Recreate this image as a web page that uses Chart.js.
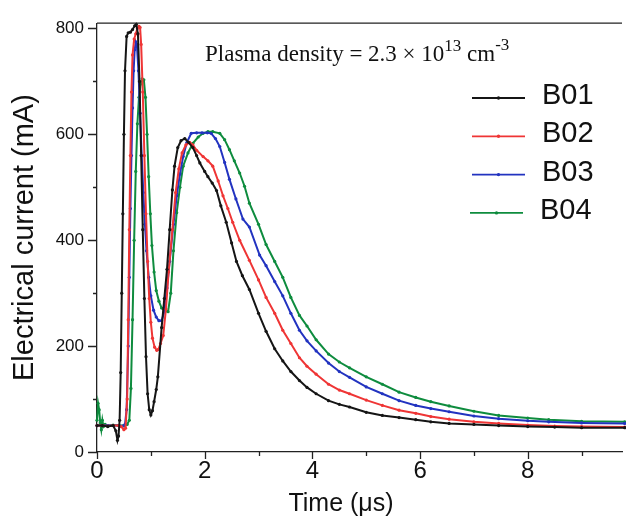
<!DOCTYPE html>
<html>
<head>
<meta charset="utf-8">
<script src="https://cdn.jsdelivr.net/npm/chart.js@4.4.0/dist/chart.umd.min.js"></script>
<style>
  html, body { margin: 0; padding: 0; background: #fff; }
  #wrap { width: 626px; height: 517px; }
</style>
</head>
<body>
<div id="wrap"><canvas id="grafico" width="626" height="517"></canvas></div>
<script>
// Datos (tiempo en µs, corriente en mA)
var tB01 = [0, 0.1, 0.2, 0.3, 0.35, 0.38, 0.4, 0.42, 0.44, 0.46, 0.48, 0.5, 0.52, 0.55, 0.58, 0.62, 0.66, 0.7, 0.73, 0.76, 0.79, 0.82, 0.85, 0.88, 0.91, 0.94, 0.97, 1.0, 1.03, 1.06, 1.1, 1.13, 1.2, 1.25, 1.3, 1.35, 1.4, 1.44, 1.5, 1.56, 1.63, 1.7, 1.78, 1.85, 1.91, 2.0, 2.06, 2.14, 2.22, 2.3, 2.4, 2.5, 2.59, 2.7, 2.83, 3.0, 3.14, 3.3, 3.45, 3.6, 3.76, 3.9, 4.07, 4.3, 4.5, 4.69, 5.0, 5.3, 5.61, 5.92, 6.2, 6.54, 7.0, 7.46, 8.0, 8.5, 9.0, 9.8];
var iB01 = [50, 50, 48, 50, 40, 22, 30, 60, 150, 300, 450, 600, 720, 785, 792, 793, 798, 805, 808, 790, 700, 560, 420, 290, 180, 110, 80, 70, 78, 95, 118, 142, 235, 290, 345, 420, 495, 540, 575, 588, 592, 585, 575, 560, 546, 530, 520, 508, 494, 465, 434, 395, 360, 333, 307, 262, 228, 195, 172, 152, 135, 122, 110, 97, 90, 85, 75, 69, 65, 61, 57, 54, 52, 50, 48, 47, 46, 46];

var tB02 = [0, 0.1, 0.2, 0.3, 0.4, 0.45, 0.5, 0.53, 0.56, 0.58, 0.6, 0.62, 0.64, 0.66, 0.69, 0.72, 0.75, 0.78, 0.8, 0.82, 0.85, 0.88, 0.91, 0.94, 0.97, 1.0, 1.03, 1.07, 1.11, 1.14, 1.18, 1.23, 1.28, 1.33, 1.4, 1.46, 1.52, 1.58, 1.65, 1.72, 1.78, 1.85, 1.97, 2.06, 2.15, 2.25, 2.34, 2.43, 2.52, 2.65, 2.83, 3.0, 3.14, 3.3, 3.45, 3.6, 3.76, 3.9, 4.07, 4.3, 4.5, 4.69, 5.0, 5.3, 5.61, 5.92, 6.2, 6.54, 7.0, 7.46, 8.0, 8.5, 9.0, 9.8];
var iB02 = [50, 50, 49, 50, 50, 48, 42, 45, 100, 250, 420, 560, 680, 750, 780, 790, 800, 804, 802, 770, 680, 560, 450, 360, 290, 245, 215, 198, 192, 194, 205, 220, 270, 340, 420, 490, 535, 565, 580, 585, 580, 570, 558, 550, 540, 512, 484, 460, 434, 400, 362, 325, 292, 262, 230, 205, 178, 162, 147, 128, 117, 110, 98, 88, 79, 73, 67, 62, 57, 54, 51, 49, 48, 47];

var tB03 = [0, 0.2, 0.4, 0.48, 0.52, 0.55, 0.58, 0.6, 0.62, 0.64, 0.66, 0.68, 0.7, 0.72, 0.74, 0.77, 0.8, 0.83, 0.86, 0.89, 0.92, 0.96, 1.0, 1.05, 1.1, 1.15, 1.2, 1.25, 1.3, 1.35, 1.42, 1.48, 1.54, 1.6, 1.67, 1.75, 1.85, 1.95, 2.05, 2.12, 2.2, 2.28, 2.37, 2.46, 2.58, 2.71, 2.83, 3.02, 3.14, 3.3, 3.45, 3.6, 3.76, 3.9, 4.07, 4.3, 4.5, 4.69, 5.0, 5.3, 5.61, 5.92, 6.2, 6.54, 7.0, 7.46, 8.0, 8.39, 9.0, 9.8];
var iB03 = [50, 50, 50, 49, 52, 80, 200, 330, 460, 560, 650, 720, 760, 775, 770, 720, 640, 560, 490, 430, 380, 330, 295, 268, 255, 248, 248, 265, 310, 360, 430, 484, 525, 558, 585, 602, 603, 603, 603, 602, 592, 577, 547, 515, 478, 440, 425, 372, 352, 322, 295, 262, 230, 210, 191, 168, 152, 141, 123, 110, 97, 88, 82, 76, 68, 63, 59, 57, 55, 54];

var tB04 = [0, 0.02, 0.04, 0.06, 0.08, 0.1, 0.12, 0.15, 0.2, 0.3, 0.4, 0.5, 0.56, 0.6, 0.63, 0.66, 0.69, 0.72, 0.75, 0.78, 0.81, 0.84, 0.87, 0.9, 0.93, 0.96, 0.99, 1.02, 1.06, 1.1, 1.15, 1.2, 1.26, 1.32, 1.37, 1.42, 1.48, 1.54, 1.6, 1.69, 1.78, 1.88, 1.97, 2.06, 2.15, 2.28, 2.37, 2.46, 2.55, 2.65, 2.74, 2.83, 3.0, 3.14, 3.3, 3.45, 3.6, 3.76, 3.9, 4.07, 4.3, 4.5, 4.69, 5.0, 5.3, 5.61, 5.92, 6.2, 6.54, 7.0, 7.46, 8.0, 8.39, 9.0, 9.8];
var iB04 = [60, 92, 80, 55, 42, 60, 48, 52, 50, 51, 50, 50, 52, 60, 120, 250, 400, 530, 620, 670, 695, 705, 703, 670, 600, 520, 450, 390, 340, 305, 285, 272, 266, 265, 300, 380, 452, 500, 540, 565, 583, 595, 602, 605, 605, 602, 590, 571, 550, 527, 502, 470, 430, 392, 360, 330, 292, 258, 238, 212, 185, 170, 159, 142, 128, 113, 103, 95, 87, 77, 69, 64, 61, 58, 57];

var nombresSeries = ['B01', 'B02', 'B03', 'B04'];
var coloresSeries = ['#151515', '#ef3535', '#2233c0', '#0e8c3e'];

// Marcas de los ejes
var ticksX = [0, 2, 4, 6, 8];
var ticksXMenores = [1, 3, 5, 7, 9];
var ticksY = [0, 200, 400, 600, 800];
var ticksYMenores = [100, 300, 500, 700];

var fuenteSans = '"Liberation Sans", Arial, sans-serif';
var fuenteSerif = '"Liberation Serif", "Times New Roman", serif';

function unirPuntos(ts, vs) {
    var puntos = [];
    for (var i = 0; i < ts.length; i++) {
        puntos.push({x: ts[i], y: vs[i]});
    }
    return puntos;
}

var seriesDatos = [unirPuntos(tB01, iB01), unirPuntos(tB02, iB02), unirPuntos(tB03, iB03), unirPuntos(tB04, iB04)];

var conjuntos = [];
for (var k = 0; k < seriesDatos.length; k++) {
    conjuntos.push({
        label: nombresSeries[k],
        data: seriesDatos[k],
        borderColor: coloresSeries[k],
        backgroundColor: coloresSeries[k],
        borderWidth: 2,
        pointRadius: 1.6,
        pointBorderWidth: 0,
        pointBackgroundColor: coloresSeries[k],
        tension: 0,
        clip: false
    });
}

// Ticks, marco superior, leyenda, anotación y título X dibujados a mano
var pluginExtras = {
    id: 'extras',
    afterDraw: function(chart) {
        var ctx = chart.ctx;
        var area = chart.chartArea;
        var ejeX = chart.scales.x;
        var ejeY = chart.scales.y;
        ctx.save();
        ctx.strokeStyle = '#222';
        ctx.lineWidth = 1.3;
        ctx.beginPath();
        ctx.moveTo(area.left, area.top);
        ctx.lineTo(area.right, area.top);
        ctx.stroke();

        ctx.beginPath();
        ticksX.concat(ticksXMenores).forEach(function(v) {
            var px = Math.round(ejeX.getPixelForValue(v)) + 0.5;
            var largo = ticksX.indexOf(v) >= 0 ? 7 : 4;
            ctx.moveTo(px, area.bottom);
            ctx.lineTo(px, area.bottom + largo);
        });
        ticksY.concat(ticksYMenores).forEach(function(v) {
            var py = Math.round(ejeY.getPixelForValue(v)) + 0.5;
            var largo = ticksY.indexOf(v) >= 0 ? 9 : 4;
            ctx.moveTo(area.left, py);
            ctx.lineTo(area.left - largo, py);
        });
        ctx.stroke();

        // Título del eje X
        ctx.fillStyle = '#111';
        ctx.textAlign = 'center';
        ctx.textBaseline = 'alphabetic';
        ctx.font = '25px ' + fuenteSans;
        ctx.fillText('Time (\u03bcs)', 341, 511);

        // Leyenda
        ctx.textBaseline = 'middle';
        ctx.textAlign = 'left';
        ctx.font = '29px ' + fuenteSans;
        for (var i = 0; i < nombresSeries.length; i++) {
            var y = 98 + i * 38.3;
            ctx.strokeStyle = coloresSeries[i];
            ctx.fillStyle = coloresSeries[i];
            ctx.lineWidth = 1.8;
            ctx.beginPath();
            ctx.moveTo(472 - (i === 3 ? 2 : 0), y);
            ctx.lineTo(525 - (i === 3 ? 2 : 0), y);
            ctx.stroke();
            ctx.beginPath();
            ctx.arc(498.5 - (i === 3 ? 2 : 0), y, 1.7, 0, Math.PI * 2);
            ctx.fill();
            ctx.fillStyle = '#111';
            ctx.fillText(nombresSeries[i], 542 - (i === 3 ? 2 : 0), y - 2);
        }

        // Anotación
        ctx.fillStyle = '#111';
        ctx.textBaseline = 'alphabetic';
        var x = 205, base = 61;
        var partes = [
            {t: 'Plasma density = 2.3 \u00d7 10', s: 23, dy: 0},
            {t: '13', s: 17, dy: -10},
            {t: ' cm', s: 23, dy: 0},
            {t: '-3', s: 17, dy: -11}
        ];
        partes.forEach(function(p) {
            ctx.font = p.s + 'px ' + fuenteSerif;
            ctx.fillText(p.t, x, base + p.dy);
            x += ctx.measureText(p.t).width;
        });
        ctx.restore();
    }
};

var ctxGrafico = document.getElementById('grafico').getContext('2d');
var grafico = new Chart(ctxGrafico, {
    type: 'line',
    data: { datasets: conjuntos },
    options: {
        responsive: false,
        animation: false,
        devicePixelRatio: 1,
        layout: { padding: { top: 19, left: 0, right: 0, bottom: 0 } },
        plugins: {
            legend: { display: false },
            tooltip: { enabled: false }
        },
        scales: {
            x: {
                type: 'linear',
                min: 0,
                max: 9.75,
                afterFit: function(s) { s.height = 65; },
                afterBuildTicks: function(s) {
                    s.ticks = ticksX.map(function(v) { return {value: v}; });
                },
                grid: { display: false, drawTicks: false },
                border: { display: true, color: '#222', width: 1.3 },
                ticks: {
                    padding: 5,
                    color: '#111',
                    font: { family: fuenteSans, size: 24 },
                    maxRotation: 0,
                    autoSkip: false
                },
                title: { display: false }
            },
            y: {
                type: 'linear',
                min: 0,
                max: 810,
                afterFit: function(s) { s.width = 97; },
                afterBuildTicks: function(s) {
                    s.ticks = ticksY.map(function(v) { return {value: v}; });
                },
                grid: { display: false, drawTicks: false },
                border: { display: true, color: '#222', width: 1.3 },
                ticks: {
                    padding: 13,
                    color: '#111',
                    font: { family: fuenteSans, size: 17 },
                    autoSkip: false
                },
                title: {
                    display: true,
                    text: 'Electrical current (mA)',
                    color: '#111',
                    font: { family: fuenteSans, size: 29 },
                    padding: { top: 8, bottom: 0 }
                }
            }
        }
    },
    plugins: [pluginExtras]
});
</script>
</body>
</html>
